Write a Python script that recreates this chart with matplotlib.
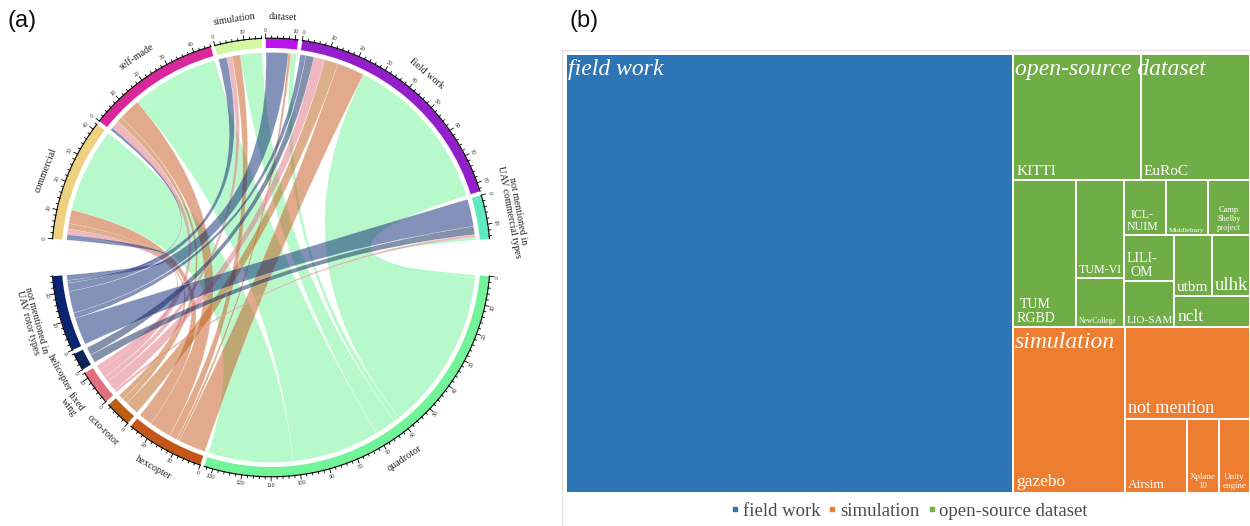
import numpy as np
import matplotlib
matplotlib.use("Agg")
import matplotlib.pyplot as plt
from matplotlib.patches import Wedge, Rectangle, PathPatch
from matplotlib.path import Path
from matplotlib.lines import Line2D

# ---------------- chord diagram data ----------------
rotor_types = ["quadrotor", "hexcopter", "octo-rotor", "fixed\nwing", "helicopter",
               "not mentioned in\nUAV rotor types"]
top_types = ["commercial", "self-made", "simulation", "dataset", "field work",
             "not mentioned in\nUAV commercial types"]
# UAV counts linking each rotor type (rows) to each category on the upper half (columns)
link_counts = [
    [31, 32, 8, 2, 59, 1],    # quadrotor
    [5, 8, 3, 1, 10, 0],      # hexcopter
    [2, 2, 0, 0, 5, 0],       # octo-rotor
    [2, 3, 2, 0, 4, 1],       # fixed wing
    [0, 0, 0, 0, 3, 3],       # helicopter
    [2, 1, 3, 8, 2, 10],      # not mentioned (rotor)
]
rotor_colors = ["#72F59A", "#C4561A", "#BB5E14", "#E0707E", "#0B2558", "#0B2472"]
top_colors = ["#EDD17E", "#D8279A", "#D3F8A2", "#BC13EA", "#931FCB", "#5DE9C1"]

# ---------------- treemap data ----------------
study_types = ["field work", "simulation", "open-source dataset"]
study_colors = ["#2E75B6", "#ED7D31", "#70AD47"]
field_count = 85
dataset_names = ["KITTI", "EuRoC", "TUM\nRGBD", "TUM-VI", "NewCollege", "ICL-\nNUIM",
                 "Middlebury", "Camp\nShelby\nproject", "LILI-\nOM", "LIO-SAM",
                 "utbm", "ulhk", "nclt"]
dataset_counts = [7, 6, 4, 2, 1, 1, 1, 1, 1, 1, 1, 1, 1]
sim_names = ["gazebo", "not mention", "Airsim", "Xplane\n10", "Unity\nengine"]
sim_counts = [8, 5, 2, 1, 1]

# ---------------- figure ----------------
W, H = 1250, 526
fig = plt.figure(figsize=(W / 100, H / 100), dpi=100)
ax = fig.add_axes([0, 0, 1, 1])
ax.set_xlim(0, W)
ax.set_ylim(H, 0)
ax.axis("off")

SERIF = "Liberation Serif"
SANS = "Liberation Sans"

# ======== (a) chord diagram ========
cx, cy = 271.0, 257.5
r_out, r_in, r_link = 219.0, 209.5, 205.0

names = rotor_types + top_types
colors = rotor_colors + top_colors
M = np.array(link_counts, dtype=float)
totals = list(M.sum(axis=1)) + list(M.sum(axis=0))
n_units = sum(totals)
big_gap, small_gap = 9.8, 1.1
deg_per_unit = (360 - 2 * big_gap - 10 * small_gap) / n_units

starts = []
phi = big_gap / 2
for k, tot in enumerate(totals):
    starts.append(phi)
    phi += tot * deg_per_unit
    phi += big_gap if k in (5, 11) else small_gap


def pt(a, r):
    t = np.deg2rad(a)
    return cx + r * np.cos(t), cy + r * np.sin(t)


def tangential_rotation(a):
    a = a % 360
    if 180 < a < 360:      # upper half: read clockwise
        return -a - 90
    return 90 - a          # lower half: flipped to stay readable


# link partners for every sector
partners = {k: [] for k in range(12)}
for i in range(6):
    for j in range(6):
        v = M[i, j]
        if v > 0:
            partners[i].append((6 + j, v))
            partners[6 + j].append((i, v))

arcs = {}
for s in range(12):
    plist = sorted(partners[s], key=lambda p: (starts[s] - starts[p[0]]) % 360)
    cur = starts[s]
    for other, v in plist:
        arcs[(s, other)] = (cur, cur + v * deg_per_unit)
        cur += v * deg_per_unit


def arc_pts(a0, a1, r, n=30):
    return [pt(a, r) for a in np.linspace(a0, a1, n)]


# ribbons
for i in range(6):
    for j in range(6):
        if M[i, j] <= 0:
            continue
        t = 6 + j
        s0, s1 = arcs[(i, t)]
        t0, t1 = arcs[(t, i)]
        verts, codes = [], []
        a = arc_pts(s0, s1, r_link)
        verts += a
        codes += [Path.MOVETO] + [Path.LINETO] * (len(a) - 1)
        verts += [(cx, cy), pt(t0, r_link)]
        codes += [Path.CURVE3, Path.CURVE3]
        b = arc_pts(t0, t1, r_link)
        verts += b[1:]
        codes += [Path.LINETO] * (len(b) - 1)
        verts += [(cx, cy), pt(s0, r_link)]
        codes += [Path.CURVE3, Path.CURVE3]
        verts.append(pt(s0, r_link))
        codes.append(Path.CLOSEPOLY)
        patch = PathPatch(Path(verts, codes), facecolor=rotor_colors[i], alpha=0.5,
                          edgecolor=(1, 1, 1, 0.5), linewidth=0.3, zorder=2 + i * 0.01)
        ax.add_patch(patch)

# sector tracks, axis ticks and labels
for k in range(12):
    a0 = starts[k]
    a1 = a0 + totals[k] * deg_per_unit
    ax.add_patch(Wedge((cx, cy), r_out, a0, a1, width=r_out - r_in,
                       facecolor=colors[k], edgecolor="none", zorder=3))
    line = np.array(arc_pts(a0, a1, r_out + 0.3, 60))
    ax.plot(line[:, 0], line[:, 1], color="black", lw=0.8, zorder=4)
    for v in range(0, int(totals[k]) + 1, 2):
        a = a0 + v * deg_per_unit
        major = v % 10 == 0
        p1 = pt(a, r_out)
        p2 = pt(a, r_out + (4.5 if major else 2.5))
        ax.plot([p1[0], p2[0]], [p1[1], p2[1]], color="black", lw=0.6, zorder=4)
        if major:
            px, py = pt(a, r_out + 8.5)
            ax.text(px, py, str(v), fontsize=3.8, family=SANS, color="#333333",
                    rotation=tangential_rotation(a), rotation_mode="anchor",
                    ha="center", va="center", zorder=5)
    am = (a0 + a1) / 2
    rl = 247 if "\n" in names[k] else 241
    px, py = pt(am, rl)
    ax.text(px, py, names[k], fontsize=7.2, family=SERIF, color="#222222",
            rotation=tangential_rotation(am), rotation_mode="anchor",
            ha="center", va="center", linespacing=1.0, zorder=5)

# ======== (b) treemap ========
ax.add_patch(Rectangle((562, 50), 700, 490, facecolor="none", edgecolor="#E3E3E3",
                       lw=1.0, zorder=1))

values = {"field work": field_count}
values.update(dict(zip(dataset_names, dataset_counts)))
values.update(dict(zip(sim_names, sim_counts)))

d = dataset_names
s = sim_names
dataset_block = ("v", [("h", [d[0], d[1]]),
                       ("h", [d[2], ("v", [d[3], d[4]]),
                              ("v", [("h", [d[5], d[6], d[7]]),
                                     ("h", [("v", [d[8], d[9]]),
                                            ("v", [("h", [d[10], d[11]]), d[12]])])])])])
sim_block = ("h", [s[0], ("v", [s[1], ("h", [s[2], s[3], s[4]])])])
tree = ("h", ["field work", ("v", [dataset_block, sim_block])])


def node_value(node):
    if isinstance(node, str):
        return values[node]
    return sum(node_value(c) for c in node[1])


cells = {}


def layout(node, x0, y0, x1, y1):
    if isinstance(node, str):
        cells[node] = (x0, y0, x1, y1)
        return
    orient, kids = node
    tot = node_value(node)
    pos = x0 if orient == "h" else y0
    for kid in kids:
        f = node_value(kid) / tot
        if orient == "h":
            w = (x1 - x0) * f
            layout(kid, pos, y0, pos + w, y1)
            pos += w
        else:
            h = (y1 - y0) * f
            layout(kid, x0, pos, x1, pos + h)
            pos += h


tm_x0, tm_y0, tm_x1, tm_y1 = 565.5, 53.5, 1250.0, 492.5
layout(tree, tm_x0, tm_y0, tm_x1, tm_y1)

cell_color = {"field work": study_colors[0]}
for n in dataset_names:
    cell_color[n] = study_colors[2]
for n in sim_names:
    cell_color[n] = study_colors[1]

for n, (x0, y0, x1, y1) in cells.items():
    ax.add_patch(Rectangle((x0, y0), x1 - x0, y1 - y0, facecolor=cell_color[n],
                           edgecolor="white", lw=1.4, zorder=2))

# leaf labels
leaf_font = {"KITTI": 11, "EuRoC": 11, "TUM\nRGBD": 10, "TUM-VI": 8.6, "NewCollege": 5.5,
             "ICL-\nNUIM": 8.6, "Middlebury": 5.4, "Camp\nShelby\nproject": 6.0,
             "LILI-\nOM": 10, "LIO-SAM": 8, "utbm": 11, "ulhk": 13.5, "nclt": 12.5,
             "gazebo": 12.5, "not mention": 13, "Airsim": 9.5, "Xplane\n10": 6.5,
             "Unity\nengine": 6.5}
centered = {"Camp\nShelby\nproject", "Xplane\n10", "Unity\nengine"}
for n, fs in leaf_font.items():
    x0, y0, x1, y1 = cells[n]
    if n in centered:
        ax.text((x0 + x1) / 2, y1 - 3, n, fontsize=fs, family=SERIF, color="white",
                ha="center", va="bottom", multialignment="center", linespacing=1.15,
                zorder=3)
    else:
        ax.text(x0 + 3, y1 - 2, n, fontsize=fs, family=SERIF, color="white",
                ha="left", va="bottom", multialignment="center", linespacing=1.05,
                zorder=3)

# group labels
fx0, fy0, _, _ = cells["field work"]
dx0, dy0, _, _ = cells[dataset_names[0]]
sx0, sy0, _, _ = cells[sim_names[0]]
for (x, y), txt in zip([(fx0, fy0), (sx0, sy0), (dx0, dy0)], study_types):
    ax.text(x + 2, y + 5, txt, fontsize=17, family=SERIF, style="italic",
            color="white", ha="left", va="top", zorder=4)

# legend
handles = [Line2D([], [], marker="s", linestyle="none", markersize=2.6,
                  markerfacecolor=c, markeredgecolor=c) for c in study_colors]
leg = fig.legend(handles, study_types, loc="center", ncol=3,
                 bbox_to_anchor=(909 / W, 1 - 511 / H), frameon=False,
                 handlelength=0.5, handletextpad=0.15, columnspacing=0.4,
                 prop={"family": SERIF, "size": 13.5})
for t in leg.get_texts():
    t.set_color("#4A4A4A")

# panel labels
ax.text(22, 21, "(a)", fontsize=17, family=SANS, ha="center", va="center", color="#111111")
ax.text(584, 21, "(b)", fontsize=17, family=SANS, ha="center", va="center", color="#111111")

fig.savefig("out.png", dpi=100)
